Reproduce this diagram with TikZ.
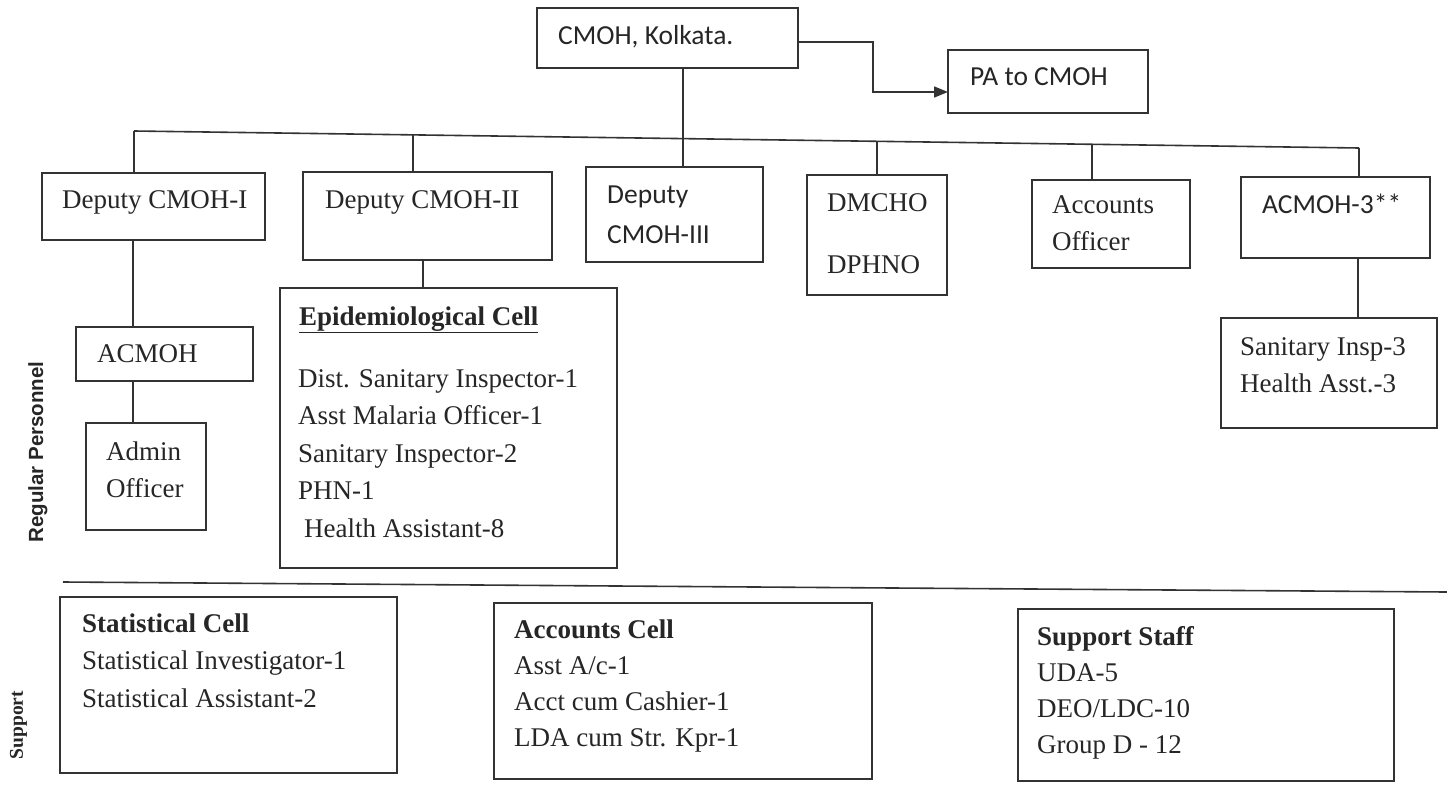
\documentclass[tikz,border=0pt]{standalone}
\usepackage{fontspec}
\setmainfont{Liberation Serif}
\newfontfamily\calfont{Carlito}
\newfontfamily\arialfont{Liberation Sans}
\usetikzlibrary{arrows.meta,fit}
\newcommand\blk[2]{\vtop{\baselineskip=#1pt\lineskiplimit=-100pt\lineskip=0pt\halign{##\hfil\cr#2\crcr}}}
\begin{document}
\begin{tikzpicture}[x=1pt,y=-1pt,
  box/.style={draw=black!80, line width=1.6pt, inner sep=0pt, outer sep=0pt},
  conn/.style={draw=black!80, line width=1.6pt},
  arr/.style={conn, -{Triangle[length=14pt,width=11pt]}},
  ser/.style={inner sep=0pt, anchor=base west, text=black!85, font=\fontsize{27}{37}\selectfont},
  sans/.style={inner sep=0pt, anchor=base west, text=black!85, font=\calfont\fontsize{27.5}{37}\selectfont},
  side/.style={rotate=90, anchor=base, inner sep=0pt, text=black!85},
]
\fill[white] (0,0) rectangle (1447,784);
\useasboundingbox (0,0) rectangle (1447,784);

% boxes
\node[box, fit={(537,8)(798,68)}] (cmoh) {};
\node[box, fit={(948,50)(1148,113)}] (pa) {};
\node[box, fit={(42,173)(265,240)}] (dep1) {};
\node[box, fit={(303,172)(552,260)}] (dep2) {};
\node[box, fit={(586,167)(763,262)}] (dep3) {};
\node[box, fit={(807,175)(947,295)}] (dmcho) {};
\node[box, fit={(1032,180)(1190,268)}] (acco) {};
\node[box, fit={(1241,177)(1430,258)}] (acmoh3) {};
\node[box, fit={(76,327)(253,381)}] (acmoh) {};
\node[box, fit={(86,423)(206,530)}] (admin) {};
\node[box, fit={(280,288)(617,568)}] (epi) {};
\node[box, fit={(1221,318)(1437,428)}] (san3) {};
\node[box, fit={(60,597)(397,773)}] (stat) {};
\node[box, fit={(494,603)(872,779)}] (acccell) {};
\node[box, fit={(1018,609)(1394,781)}] (supp) {};

% texts
\node[sans] (cmoht) at (558,45) {CMOH, Kolkata.};
\node[sans] (pat) at (970,85) {PA to CMOH};
\node[ser] (dep1t) at (62,208) {Deputy CMOH-I};
\node[ser] (dep2t) at (325,208) {Deputy CMOH-II};
\node[sans] (dep3t) at (607,203) {\blk{40}{Deputy\cr CMOH-III}};
\node[ser] (dmchot) at (827,211) {\blk{62}{DMCHO\cr DPHNO}};
\node[ser] (accot) at (1052,213) {\blk{37}{Accounts\cr Officer}};
\node[sans] (acmoh3t) at (1262,213) {ACMOH-3**};
\node[ser] (acmoht) at (97,362) {ACMOH};
\node[ser] (admint) at (106,460) {\blk{37}{Admin\cr Officer}};
\node[ser] (epih) at (299,325) {\textbf{\underline{Epidemiological Cell}}};
\node[ser] (epit) at (298,387) {\blk{37.5}{Dist. Sanitary Inspector-1\cr Asst Malaria Officer-1\cr Sanitary Inspector-2\cr PHN-1\cr \kern6pt Health Assistant-8}};
\node[ser] (san3t) at (1240,355) {\blk{37}{Sanitary Insp-3\cr Health Asst.-3}};
\node[ser] (statt) at (82,632) {\blk{37.5}{\textbf{Statistical Cell}\cr Statistical Investigator-1\cr Statistical Assistant-2}};
\node[ser] (acct) at (514,638) {\blk{36}{\textbf{Accounts Cell}\cr Asst A/c-1\cr Acct cum Cashier-1\cr LDA cum Str. Kpr-1}};
\node[ser] (suppt) at (1037,645) {\blk{36}{\textbf{Support Staff}\cr UDA-5\cr DEO/LDC-10\cr Group D - 12}};
\node[side, font=\arialfont\bfseries\fontsize{20.5}{24}\selectfont] (regl) at (43,452) {Regular Personnel};
\node[side, font=\bfseries\fontsize{19.5}{24}\selectfont] (supl) at (23,725) {Support};

% connectors
\coordinate (busL) at (134,131);
\coordinate (busR) at (1359,148);
\coordinate (b2) at (413,135);
\coordinate (b3) at (683,139);
\coordinate (b4) at (877,141);
\coordinate (b5) at (1092,144);
\draw[conn] (busL) -- (busR);
\draw[conn] (busL) -- (busL |- dep1.north);
\draw[conn] (b2) -- (b2 |- dep2.north);
\draw[conn] (b3 |- cmoh.south) -- (b3 |- dep3.north);
\draw[conn] (b4) -- (b4 |- dmcho.north);
\draw[conn] (b5) -- (b5 |- acco.north);
\draw[conn] (busR) -- (busR |- acmoh3.north);

\coordinate (c1) at (133,0);
\coordinate (c2) at (423,0);
\coordinate (c3) at (1358,0);
\draw[conn] (c1 |- dep1.south) -- (c1 |- acmoh.north);
\draw[conn] (c1 |- acmoh.south) -- (c1 |- admin.north);
\draw[conn] (c2 |- dep2.south) -- (c2 |- epi.north);
\draw[conn] (c3 |- acmoh3.south) -- (c3 |- san3.north);

\coordinate (a1) at (873,42);
\coordinate (a2) at (873,92);
\draw[arr] (cmoh.east |- a1) -- (a1) -- (a2) -- (pa.west |- a2);

\coordinate (dl) at (63,582);
\coordinate (dr) at (1447,592);
\draw[conn] (dl) -- (dr);
\end{tikzpicture}
\end{document}
